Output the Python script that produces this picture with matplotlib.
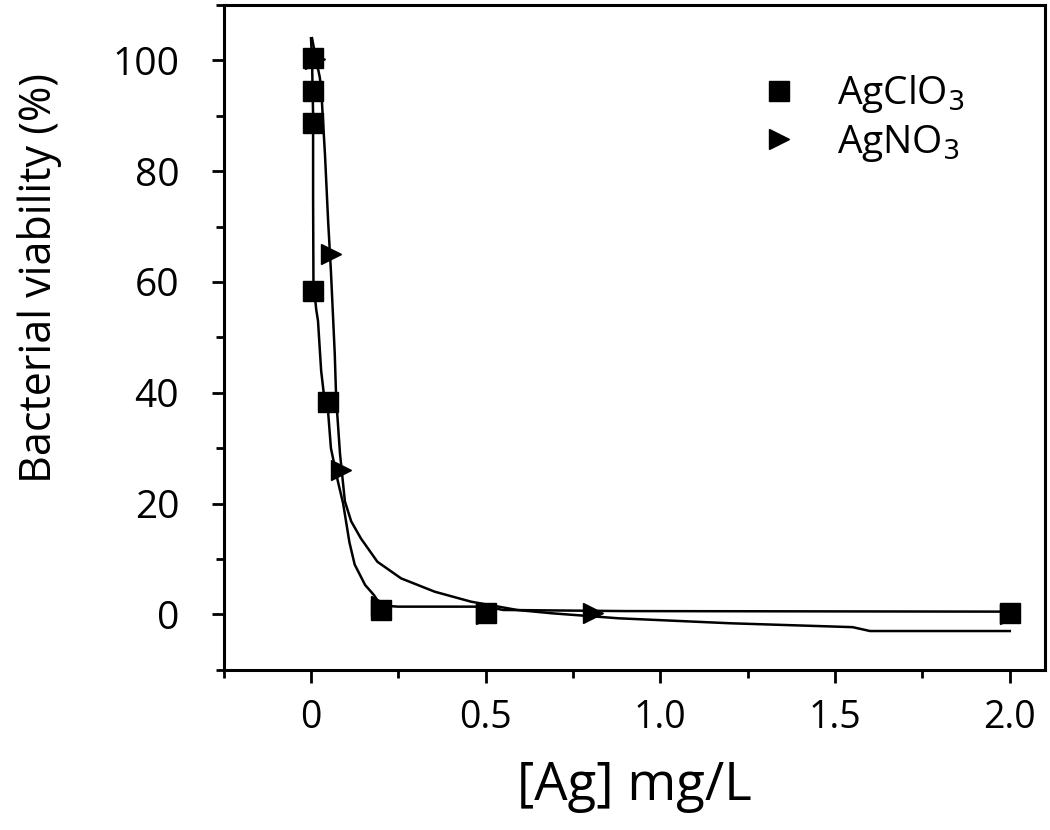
import numpy as np
import matplotlib.pyplot as plt
from matplotlib.ticker import MultipleLocator, FixedLocator

plt.rcParams['font.family'] = ['Open Sans', 'DejaVu Sans']

# measured points
clo3_x = [0.005, 0.005, 0.005, 0.006, 0.049, 0.2, 0.5, 2.0]
clo3_y = [100.5, 94.4, 88.7, 58.4, 38.4, 0.8, 0.2, 0.3]
no3_x = [0.012, 0.057, 0.086, 0.2, 0.5, 0.807, 2.0]
no3_y = [100.2, 65.0, 26.0, 1.5, 0.0, 0.2, 0.0]

# fitted curves
fitA_x = [0.0, 0.003, 0.006, 0.006, 0.007, 0.015, 0.02, 0.029, 0.04, 0.049,
          0.057, 0.077, 0.092, 0.11, 0.125, 0.155, 0.18, 0.2, 0.25, 0.5,
          0.55, 0.9, 2.0]
fitA_y = [104, 100, 90, 75, 60, 55, 53, 44, 38, 36.5,
          30, 24, 20, 13, 9, 5.3, 3.5, 1.6, 1.4, 1.4,
          0.8, 0.6, 0.5]
fitB_x = [0.003, 0.015, 0.025, 0.029, 0.04, 0.049, 0.057, 0.068, 0.072, 0.083,
          0.097, 0.115, 0.143, 0.19, 0.258, 0.354, 0.458, 0.59, 0.69, 0.88,
          1.2, 1.55, 1.6, 2.0]
fitB_y = [104, 100, 97, 95, 83, 71, 62, 47, 39, 29,
          20.4, 16.8, 13.7, 9.5, 6.5, 4.1, 2.3, 0.8, 0.2, -0.7,
          -1.6, -2.3, -3.0, -3.0]

fig = plt.figure(figsize=(10.5, 8.3), dpi=100)
ax = fig.add_axes([0.213, 0.193, 0.782, 0.801])

ax.plot(fitA_x, fitA_y, color='black', lw=1.8)
ax.plot(fitB_x, fitB_y, color='black', lw=1.8)
ax.plot(clo3_x, clo3_y, 's', color='black', ms=14, ls='none', label='AgClO$_3$')
ax.plot(no3_x, no3_y, '>', color='black', ms=15, ls='none', label='AgNO$_3$')

ax.set_xlim(-0.25, 2.1)
ax.set_ylim(-10, 110)
ax.xaxis.set_major_locator(FixedLocator([0, 0.5, 1.0, 1.5, 2.0]))
ax.set_xticklabels(['0', '0.5', '1.0', '1.5', '2.0'])
ax.xaxis.set_minor_locator(MultipleLocator(0.25))
ax.yaxis.set_major_locator(FixedLocator([0, 20, 40, 60, 80, 100]))
ax.yaxis.set_minor_locator(MultipleLocator(10))

ax.tick_params(which='major', direction='out', length=9, width=2,
               labelsize=27, pad=12)
ax.tick_params(axis='y', which='major', labelsize=28, pad=23)
ax.tick_params(which='minor', direction='out', length=6, width=2)
for s in ax.spines.values():
    s.set_linewidth(2.2)

ax.set_xlabel('[Ag] mg/L', fontsize=38, labelpad=16)
ax.set_ylabel('Bacterial viability (%)', fontsize=31)
ax.yaxis.set_label_coords(-0.197, 0.59)

ax.legend(loc='upper left', bbox_to_anchor=(0.61, 0.95), frameon=False,
          fontsize=28, handletextpad=1.0, labelspacing=0.2, handlelength=1.0)

fig.savefig('out.png', dpi=100)
